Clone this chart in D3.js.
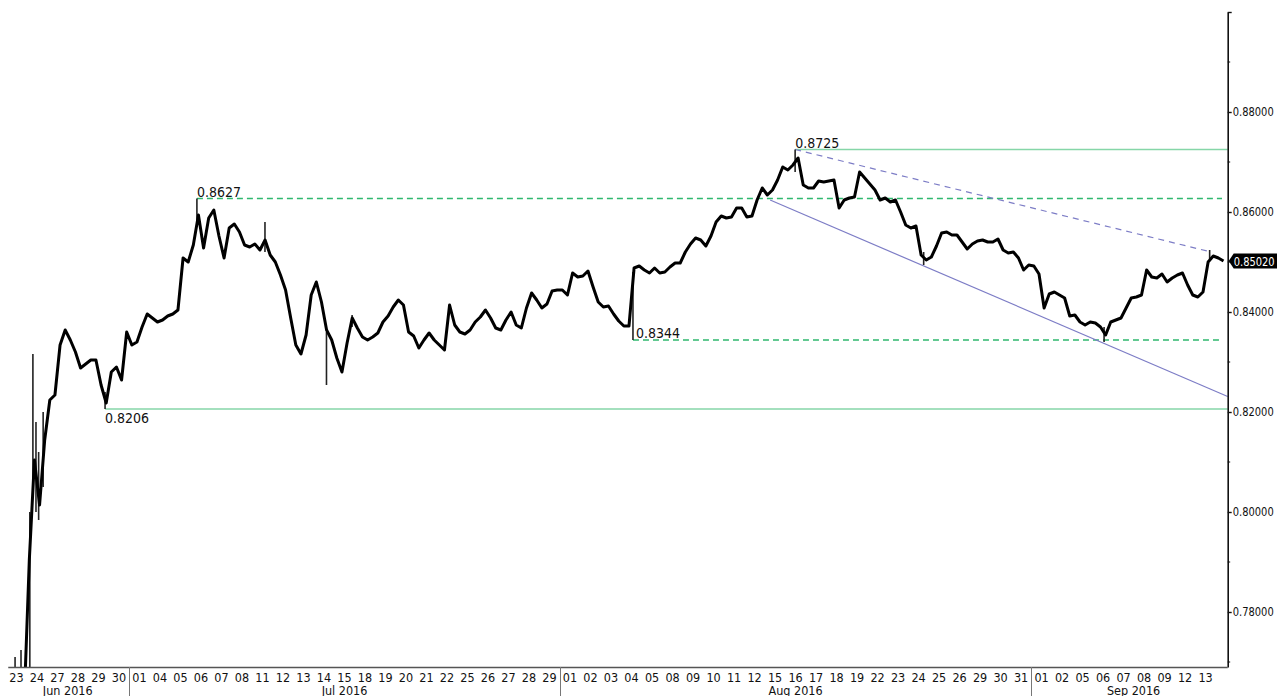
<!DOCTYPE html>
<html>
<head>
<meta charset="utf-8">
<script src="https://cdn.jsdelivr.net/npm/d3@7"></script>
<style>
  body { margin: 0; background: #fff; }
  svg { display: block; }
  text { font-family: "DejaVu Sans Condensed", "DejaVu Sans", sans-serif; font-stretch: condensed; }
</style>
</head>
<body>
<div id="vis"></div>
<script>
// EUR/GBP, 6-hour closes (4 per trading day)

var junDays = ["23", "24", "27", "28", "29", "30"];
var julDays = ["01", "04", "05", "06", "07", "08", "11", "12", "13", "14", "15", "18", "19", "20", "21", "22", "25", "26", "27", "28", "29"];
var augDays = ["01", "02", "03", "04", "05", "08", "09", "10", "11", "12", "15", "16", "17", "18", "19", "22", "23", "24", "25", "26", "29", "30", "31"];
var sepDays = ["01", "02", "05", "06", "07", "08", "09", "12", "13"];
var monthNames = ["Jun 2016", "Jul 2016", "Aug 2016", "Sep 2016"];

var closeJun = [
  0.7620, 0.7620, 0.7620, 0.7620,
  0.7904, 0.8104, 0.8014, 0.8144,
  0.8224, 0.8234, 0.8334, 0.8364,
  0.8344, 0.8320, 0.8288, 0.8296,
  0.8304, 0.8304, 0.8254, 0.8218,
  0.8280, 0.8290, 0.8264, 0.8360
];
var closeJul = [
  0.8334, 0.8340, 0.8370, 0.8396,
  0.8388, 0.8380, 0.8384, 0.8392,
  0.8396, 0.8404, 0.8508, 0.8500,
  0.8534, 0.8594, 0.8528, 0.8588,
  0.8604, 0.8552, 0.8508, 0.8568,
  0.8576, 0.8560, 0.8534, 0.8530,
  0.8536, 0.8524, 0.8544, 0.8514,
  0.8500, 0.8474, 0.8444, 0.8388,
  0.8334, 0.8316, 0.8354, 0.8434,
  0.8460, 0.8420, 0.8364, 0.8344,
  0.8308, 0.8280, 0.8338, 0.8388,
  0.8368, 0.8350, 0.8344, 0.8350,
  0.8358, 0.8380, 0.8392, 0.8410,
  0.8424, 0.8414, 0.8360, 0.8352,
  0.8328, 0.8344, 0.8358, 0.8344,
  0.8334, 0.8324, 0.8414, 0.8374,
  0.8360, 0.8356, 0.8364, 0.8380,
  0.8390, 0.8404, 0.8388, 0.8368,
  0.8364, 0.8384, 0.8400, 0.8374,
  0.8368, 0.8408, 0.8438, 0.8424,
  0.8408, 0.8416, 0.8442, 0.8444
];
var closeAug = [
  0.8444, 0.8434, 0.8478, 0.8470,
  0.8472, 0.8482, 0.8450, 0.8420,
  0.8410, 0.8412, 0.8396, 0.8382,
  0.8372, 0.8372, 0.8488, 0.8492,
  0.8484, 0.8478, 0.8488, 0.8478,
  0.8480, 0.8490, 0.8498, 0.8498,
  0.8520, 0.8536, 0.8548, 0.8544,
  0.8532, 0.8552, 0.8580, 0.8592,
  0.8588, 0.8590, 0.8608, 0.8608,
  0.8590, 0.8592, 0.8624, 0.8648,
  0.8634, 0.8644, 0.8664, 0.8690,
  0.8684, 0.8694, 0.8708, 0.8654,
  0.8648, 0.8648, 0.8662, 0.8660,
  0.8662, 0.8664, 0.8608, 0.8624,
  0.8628, 0.8630, 0.8680, 0.8668,
  0.8656, 0.8644, 0.8624, 0.8628,
  0.8620, 0.8624, 0.8600, 0.8574,
  0.8568, 0.8572, 0.8514, 0.8504,
  0.8510, 0.8532, 0.8558, 0.8560,
  0.8554, 0.8554, 0.8540, 0.8526,
  0.8536, 0.8542, 0.8544, 0.8540,
  0.8540, 0.8546, 0.8524, 0.8518,
  0.8520, 0.8508, 0.8484, 0.8494
];
var closeSep = [
  0.8492, 0.8476, 0.8408, 0.8436,
  0.8440, 0.8434, 0.8428, 0.8392,
  0.8394, 0.8380, 0.8374, 0.8380,
  0.8378, 0.8370, 0.8354, 0.8380,
  0.8384, 0.8388, 0.8408, 0.8428,
  0.8430, 0.8434, 0.8484, 0.8470,
  0.8468, 0.8476, 0.8460, 0.8468,
  0.8474, 0.8478, 0.8454, 0.8434,
  0.8430, 0.8440, 0.8500, 0.8512,
  0.8508, 0.8502
];

// hourly spikes: [trading day, low, high]
var wicks = [
  [0.43, 0.7600, 0.7710], [0.72, 0.7600, 0.7724], [1.15, 0.7650, 0.8000],
  [1.30, 0.8050, 0.8316], [1.45, 0.8000, 0.8180], [1.58, 0.7984, 0.8120],
  [1.80, 0.8050, 0.8200], [4.82, 0.8206, 0.8240], [9.30, 0.8570, 0.8627],
  [12.62, 0.8520, 0.8580], [15.62, 0.8254, 0.8360], [16.87, 0.8370, 0.8394],
  [30.57, 0.8344, 0.8480], [38.48, 0.8680, 0.8725], [44.75, 0.8494, 0.8520],
  [53.55, 0.8340, 0.8370], [58.70, 0.8505, 0.8524]
];

var levelValues = [0.8725, 0.8627, 0.8344, 0.8206];
var levelStart = [38.48, 9.30, 30.57, 4.82];
var trendLower = [[37.26, 0.8624], [59.58, 0.8231]];
var trendUpper = [[38.48, 0.8725], [58.77, 0.8520]];
var lastPrice = 0.85020;

var yMajor = [0.78, 0.80, 0.82, 0.84, 0.86, 0.88, 0.90];
var yMinor = [0.77, 0.79, 0.81, 0.83, 0.85, 0.87, 0.89];

var W = 1277, H = 696;
var svg = d3.select('#vis').append('svg')
  .attr('width', W)
  .attr('height', H);

var x = d3.scaleLinear().domain([0, 59.58]).range([6.25, 1227.7]);
var y = d3.scaleLinear().domain([0.769, 0.90]).range([667, 12]);
var axisX = x.range()[1];

svg.append('clipPath').attr('id', 'plot')
  .append('rect').attr('x', 0).attr('y', 12).attr('width', axisX).attr('height', 655);

var closes = closeJun.concat(closeJul, closeAug, closeSep);
var pts = closes.map(function(v, k) { return [(k + 0.5) / 4, v]; });

// levels
var levelStyle = [
  {color: '#86d6a8', dash: null, end: axisX},
  {color: '#2fb86e', dash: '6,4', end: 1222},
  {color: '#2fb86e', dash: '6,4', end: 1222},
  {color: '#86d6a8', dash: null, end: axisX}
];
levelValues.forEach(function(v, i) {
  svg.append('line')
    .attr('x1', x(levelStart[i])).attr('x2', levelStyle[i].end)
    .attr('y1', y(v)).attr('y2', y(v))
    .attr('stroke', levelStyle[i].color)
    .attr('stroke-width', 1.4)
    .attr('stroke-dasharray', levelStyle[i].dash);
});

// trend lines
var tl = d3.line().x(function(d) { return x(d[0]); }).y(function(d) { return y(d[1]); });
svg.append('path').attr('d', tl(trendLower))
  .attr('fill', 'none').attr('stroke', '#7d7dc6').attr('stroke-width', 1.2);
svg.append('path').attr('d', tl(trendUpper))
  .attr('fill', 'none').attr('stroke', '#7d7dc6').attr('stroke-width', 1.2)
  .attr('stroke-dasharray', '6,5');

// price
var g = svg.append('g').attr('clip-path', 'url(#plot)');
g.selectAll('line.wick').data(wicks).enter().append('line')
  .attr('class', 'wick')
  .attr('x1', function(d) { return x(d[0]); }).attr('x2', function(d) { return x(d[0]); })
  .attr('y1', function(d) { return y(d[1]); }).attr('y2', function(d) { return y(d[2]); })
  .attr('stroke', '#222').attr('stroke-width', 1.6);
g.append('path').attr('d', tl(pts))
  .attr('fill', 'none').attr('stroke', '#000')
  .attr('stroke-width', 3).attr('stroke-linejoin', 'round');

// level labels
var lab = [
  {dx: 0, dy: -2},
  {dx: 0, dy: -2},
  {dx: 3, dy: -2},
  {dx: 0, dy: 14}
];
levelValues.forEach(function(v, i) {
  svg.append('text')
    .attr('x', x(levelStart[i]) + lab[i].dx)
    .attr('y', y(v) + lab[i].dy)
    .attr('font-size', 14)
    .attr('fill', '#111')
    .text(d3.format('.4f')(v));
});

// right axis
var yAxis = d3.axisRight(y).tickValues(yMajor).tickSize(4).tickSizeOuter(0)
  .tickFormat(function(d) { return d >= 0.895 ? '' : d3.format('.5f')(d); });
var ya = svg.append('g').attr('transform', 'translate(' + axisX + ',0)').call(yAxis);
ya.select('.domain').attr('stroke', '#111').attr('stroke-width', 1.6);
ya.selectAll('.tick line').attr('stroke', '#111').attr('stroke-width', 1.4);
ya.selectAll('.tick text').attr('font-size', 11.5).attr('fill', '#111')
  .attr('font-family', '"DejaVu Sans Condensed", "DejaVu Sans", sans-serif').attr('x', 5)
  .filter(function(d) { return d < 0.895; })
  .attr('textLength', 41).attr('lengthAdjust', 'spacingAndGlyphs');
ya.selectAll('.minor').data(yMinor).enter().append('line')
  .attr('class', 'minor')
  .attr('x1', 0).attr('x2', 2.5)
  .attr('y1', function(d) { return y(d); }).attr('y2', function(d) { return y(d); })
  .attr('stroke', '#111');

// last price tag
var ly = y(lastPrice);
svg.append('path')
  .attr('d', 'M' + (axisX + 1) + ',' + ly + ' L' + (axisX + 6) + ',' + (ly - 7.5) +
    ' L' + W + ',' + (ly - 7.5) + ' L' + W + ',' + (ly + 7.5) + ' L' + (axisX + 6) + ',' + (ly + 7.5) + ' Z')
  .attr('fill', '#000');
svg.append('text')
  .attr('x', axisX + 6).attr('y', ly + 4.5)
  .attr('font-size', 11.5).attr('fill', '#fff')
  .attr('textLength', 41).attr('lengthAdjust', 'spacingAndGlyphs')
  .text(d3.format('.5f')(lastPrice));

// bottom axis
svg.append('line')
  .attr('x1', x(0) + 2).attr('x2', axisX)
  .attr('y1', 667.5).attr('y2', 667.5)
  .attr('stroke', '#555').attr('stroke-width', 1.5);

var months = [junDays, julDays, augDays, sepDays];
var start = 0;
months.forEach(function(days, m) {
  days.forEach(function(d, i) {
    svg.append('text')
      .attr('x', x(start + i + 0.5)).attr('y', 681.5)
      .attr('text-anchor', 'middle').attr('font-size', 12.5).attr('fill', '#111')
      .text(d);
  });
  var end = m === months.length - 1 ? x.domain()[1] + 0.4 : start + days.length;
  svg.append('text')
    .attr('x', (x(start) + x(end)) / 2).attr('y', 694.5)
    .attr('text-anchor', 'middle').attr('font-size', 12.5).attr('fill', '#111')
    .text(monthNames[m]);
  if (m > 0) {
    svg.append('line')
      .attr('x1', Math.round(x(start)) + 0.5).attr('x2', Math.round(x(start)) + 0.5)
      .attr('y1', 667).attr('y2', H)
      .attr('stroke', '#777').attr('stroke-width', 1);
  }
  start += days.length;
});
</script>
</body>
</html>
